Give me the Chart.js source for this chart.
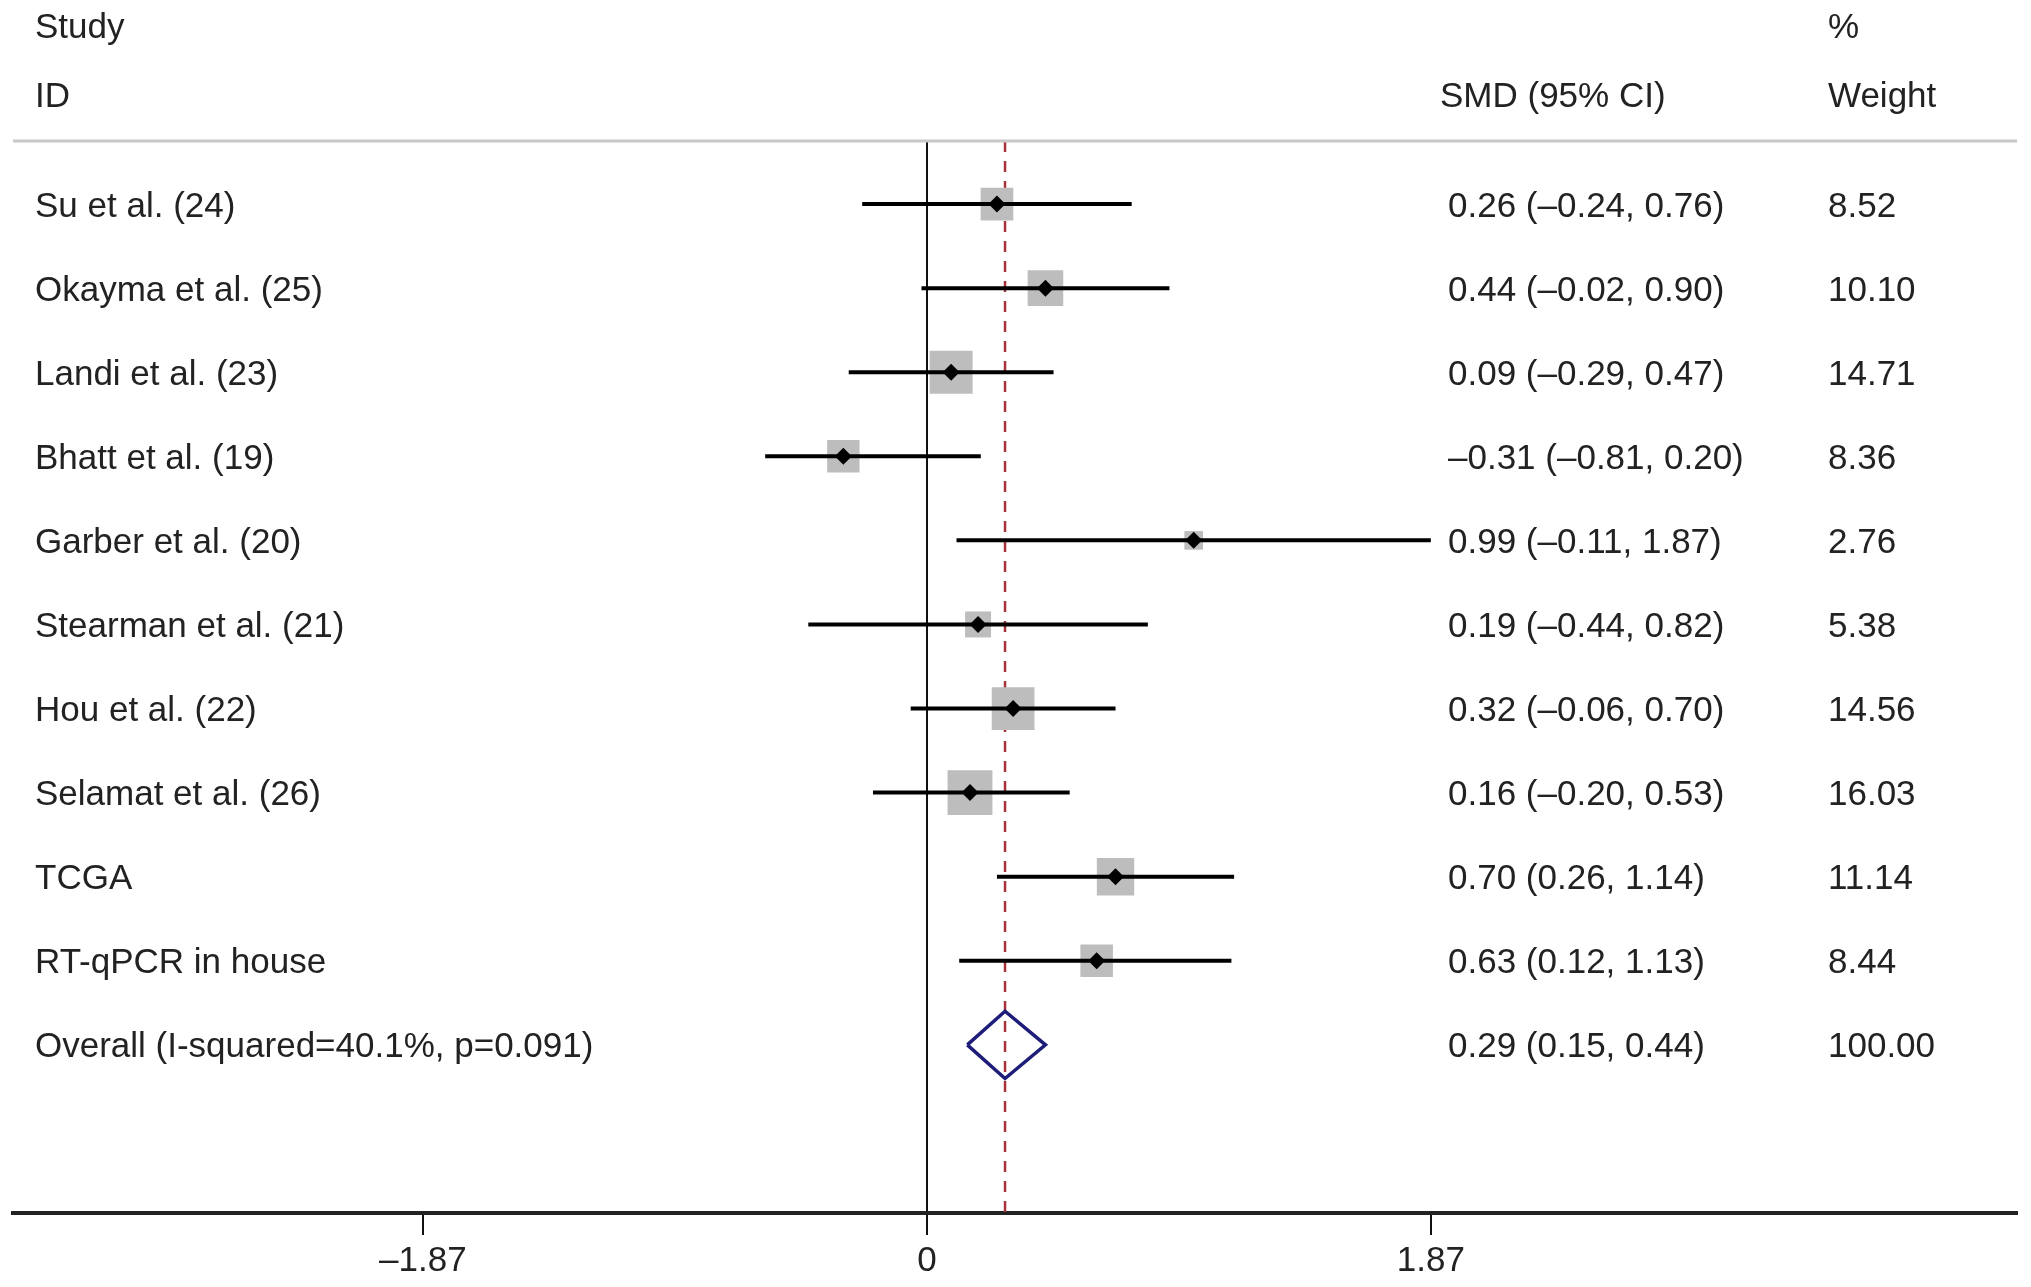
<!DOCTYPE html>
<html>
<head>
<meta charset="utf-8">
<script src="https://cdn.jsdelivr.net/npm/chart.js@4.4.1/dist/chart.umd.min.js"></script>
<style>
  body { margin: 0; background: #fff; }
  canvas { display: block; }
</style>
</head>
<body>
<canvas id="forest" width="2031" height="1287"></canvas>
<script>
// study rows, top to bottom
const studies = ['Su et al. (24)', 'Okayma et al. (25)', 'Landi et al. (23)', 'Bhatt et al. (19)',
  'Garber et al. (20)', 'Stearman et al. (21)', 'Hou et al. (22)', 'Selamat et al. (26)',
  'TCGA', 'RT-qPCR in house']
const smd = [0.26, 0.44, 0.09, -0.31, 0.99, 0.19, 0.32, 0.16, 0.70, 0.63]
// CI ends as drawn in the figure
const ciLow = [-0.24, -0.02, -0.29, -0.60, 0.11, -0.44, -0.06, -0.20, 0.26, 0.12]
const ciHigh = [0.76, 0.90, 0.47, 0.20, 1.87, 0.82, 0.70, 0.53, 1.14, 1.13]
// CI text as printed
const ciText = ['0.26 (–0.24, 0.76)', '0.44 (–0.02, 0.90)', '0.09 (–0.29, 0.47)', '–0.31 (–0.81, 0.20)',
  '0.99 (–0.11, 1.87)', '0.19 (–0.44, 0.82)', '0.32 (–0.06, 0.70)', '0.16 (–0.20, 0.53)',
  '0.70 (0.26, 1.14)', '0.63 (0.12, 1.13)']
const weights = [8.52, 10.10, 14.71, 8.36, 2.76, 5.38, 14.56, 16.03, 11.14, 8.44]

const overallLabel = 'Overall (I-squared=40.1%, p=0.091)'
const overallEst = 0.29
const overallLow = 0.15
const overallHigh = 0.44
const overallText = '0.29 (0.15, 0.44)'
const overallWeight = 100.00

const xTicks = [-1.87, 0, 1.87]

// layout
const FONT = '35px "Liberation Sans", Arial, sans-serif'
const TEXT = '#222'
const TEXT_DY = 3
const Y_MIN = -0.75, Y_MAX = 12
const X_MIN = -3.391, X_MAX = 4.045
const DIAMOND_H = 0.4
const overallRow = studies.length

const squares = smd.map((v, i) => ({x: v, y: i}))
const points = smd.map((v, i) => ({x: v, y: i}))
const ciSegs = []
smd.forEach((v, i) => {
  ciSegs.push({x: ciLow[i], y: i}, {x: ciHigh[i], y: i}, {x: NaN, y: NaN})
})
const diamond = [
  {x: overallLow, y: overallRow},
  {x: overallEst, y: overallRow - DIAMOND_H},
  {x: overallHigh, y: overallRow},
  {x: overallEst, y: overallRow + DIAMOND_H},
  {x: overallLow, y: overallRow}
]
const refLine = [{x: overallEst, y: Y_MIN}, {x: overallEst, y: Y_MAX}]

// columns of text + header rule
const textColumns = {
  id: 'textColumns',
  afterDraw(chart) {
    const ctx = chart.ctx
    const y = chart.scales.y
    const top = chart.chartArea.top
    ctx.save()
    ctx.strokeStyle = '#c8c8c8'
    ctx.lineWidth = 3
    ctx.beginPath()
    ctx.moveTo(13, top)
    ctx.lineTo(2017, top)
    ctx.stroke()

    ctx.font = FONT
    ctx.fillStyle = TEXT
    ctx.textBaseline = 'middle'
    ctx.textAlign = 'left'
    ctx.fillText('Study', 35, 28)
    ctx.fillText('ID', 35, 97)
    ctx.fillText('SMD (95% CI)', 1440, 97)
    ctx.fillText('%', 1828, 28)
    ctx.fillText('Weight', 1828, 97)

    studies.forEach((s, i) => {
      const py = y.getPixelForValue(i) + TEXT_DY
      ctx.fillText(s, 35, py)
      ctx.fillText(ciText[i], 1448, py)
      ctx.fillText(weights[i].toFixed(2), 1828, py)
    })
    const oy = y.getPixelForValue(overallRow) + TEXT_DY
    ctx.fillText(overallLabel, 35, oy)
    ctx.fillText(overallText, 1448, oy)
    ctx.fillText(overallWeight.toFixed(2), 1828, oy)
    ctx.restore()
  }
}

new Chart(document.getElementById('forest'), {
  type: 'scatter',
  data: {
    datasets: [
      {
        data: points, order: 0,
        pointStyle: 'rectRot', pointRadius: 8.5, pointBorderWidth: 0,
        backgroundColor: '#000'
      },
      {
        data: ciSegs, order: 1, showLine: true, spanGaps: false,
        pointRadius: 0, borderColor: '#000', borderWidth: 4, borderCapStyle: 'butt'
      },
      {
        data: squares, order: 2,
        pointStyle: 'rect', pointBorderWidth: 0, backgroundColor: '#bdbdbd',
        pointRadius: c => 11.2 * Math.sqrt(weights[c.dataIndex] || 0) / Math.SQRT2
      },
      {
        data: diamond, order: 3, showLine: true, pointRadius: 0,
        borderColor: '#1e1e7a', borderWidth: 3.5, borderJoinStyle: 'miter', fill: false
      },
      {
        data: refLine, order: 4, showLine: true, pointRadius: 0,
        borderColor: '#a8323c', borderWidth: 2.5, borderDash: [11, 9]
      }
    ]
  },
  options: {
    responsive: false,
    devicePixelRatio: 1,
    animation: false,
    events: [],
    layout: { autoPadding: false, padding: { top: 141, left: 13, right: 14, bottom: 0 } },
    plugins: { legend: { display: false }, tooltip: { enabled: false } },
    scales: {
      x: {
        type: 'linear', position: 'bottom',
        min: X_MIN, max: X_MAX,
        afterBuildTicks: axis => { axis.ticks = xTicks.map(v => ({value: v})) },
        afterFit: axis => { axis.paddingLeft = 0; axis.paddingRight = 0 },
        border: { display: true, color: '#222', width: 4 },
        grid: {
          drawOnChartArea: true,
          color: c => (c.tick && c.tick.value === 0) ? '#111' : 'rgba(0,0,0,0)',
          lineWidth: 2,
          tickColor: '#111', tickWidth: 2, tickLength: 22
        },
        ticks: {
          font: { family: '"Liberation Sans", Arial, sans-serif', size: 35 },
          color: TEXT, padding: 5, maxRotation: 0, autoSkip: false,
          callback: v => v === 0 ? '0' : (v < 0 ? '–' + Math.abs(v).toFixed(2) : v.toFixed(2))
        }
      },
      y: {
        type: 'linear', reverse: true, display: false,
        min: Y_MIN, max: Y_MAX
      }
    }
  },
  plugins: [textColumns]
})
</script>
</body>
</html>
